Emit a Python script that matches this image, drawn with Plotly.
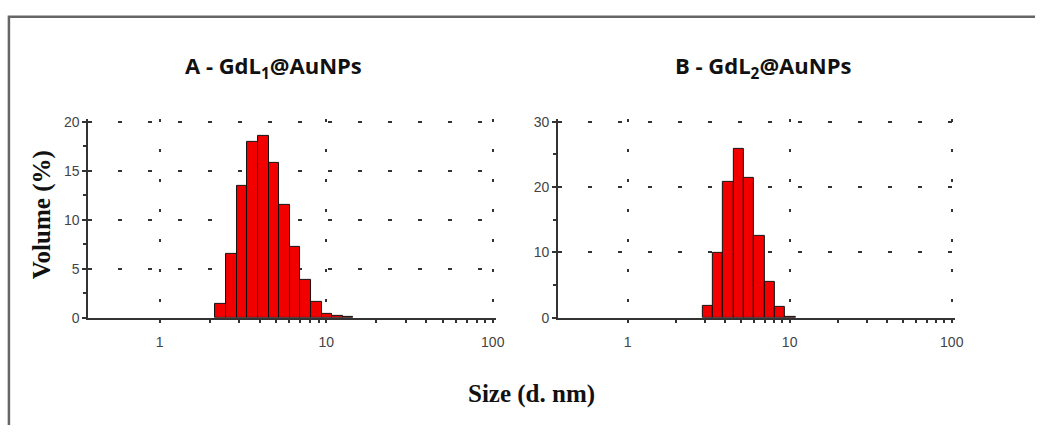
import numpy as np
import plotly.graph_objects as go

# ---- data (Malvern size classes, d.nm) ----
size_a = [2.328, 2.696, 3.122, 3.615, 4.187, 4.849, 5.615, 6.503, 7.531, 8.721, 10.1, 11.7, 13.54]
vol_a = [1.4, 6.5, 13.5, 18.0, 18.6, 15.8, 11.5, 7.2, 3.9, 1.6, 0.4, 0.15, 0.05]
size_b = [3.122, 3.615, 4.187, 4.849, 5.615, 6.503, 7.531, 8.721, 10.1]
vol_b = [1.8, 9.9, 20.8, 25.8, 21.4, 12.6, 5.5, 1.6, 0.2]

major_x = [1, 10, 100]
minor_x = [2, 3, 4, 5, 6, 7, 8, 9, 20, 30, 40, 50, 60, 70, 80, 90]
title_a = "A - GdL<sub>1</sub>@AuNPs"
title_b = "B - GdL<sub>2</sub>@AuNPs"
y_title = "Volume (%)"
x_title = "Size (d. nm)"

W, H = 1044, 433
fig = go.Figure()

def add_bars(sizes, vols, xa, ya):
    lx = np.log10(sizes)
    width = float(np.log10(sizes[1] / sizes[0]))
    fig.add_trace(go.Bar(x=lx, y=vols, width=width, xaxis=xa, yaxis=ya,
                         marker=dict(color="#f20000", line=dict(color="#111111", width=1)),
                         showlegend=False, hoverinfo="skip"))

add_bars(size_a, vol_a, "x", "y")
add_bars(size_b, vol_b, "x2", "y2")

gridc = "#333333"
tickfont = dict(family="Liberation Sans, Arial", size=14, color="#444444")

def xaxis(dom, anchor):
    return dict(domain=dom, anchor=anchor, range=[-0.43, 2.02],
                tickvals=np.log10(major_x).tolist(), ticktext=[str(v) for v in major_x],
                showgrid=True, gridcolor=gridc, griddash="3px,27px", gridwidth=1.5,
                showline=True, linecolor="#333333", linewidth=1.5,
                ticks="outside", ticklen=3, tickcolor="#333333", tickwidth=1.5,
                tickfont=tickfont, ticklabelstandoff=8, zeroline=False,
                minor=dict(tickvals=np.log10(minor_x).tolist(), ticks="outside", ticklen=3,
                           tickcolor="#333333", tickwidth=1.5, showgrid=False),
                fixedrange=True)

def yaxis(dom, anchor, rng, dt):
    return dict(domain=dom, anchor=anchor, range=rng, dtick=dt, tick0=0,
                showgrid=True, gridcolor=gridc, griddash="4px,26px", gridwidth=1.5,
                showline=True, linecolor="#333333", linewidth=1.5,
                ticks="outside", ticklen=4, tickcolor="#333333", tickwidth=1.5,
                tickfont=tickfont, zeroline=False,
                minor=dict(dtick=dt / 2, ticks="outside", ticklen=3,
                           tickcolor="#333333", tickwidth=1.5, showgrid=False),
                fixedrange=True)

ydom = [1 - 322.5 / H, 1 - 117.4 / H]
fig.update_layout(
    width=W, height=H, margin=dict(l=0, r=0, t=0, b=0),
    paper_bgcolor="white", plot_bgcolor="white", bargap=0,
    xaxis=xaxis([88.8 / W, 500.4 / W], "y"),
    yaxis=yaxis(ydom, "x", [0, 20.3], 5),
    xaxis2=xaxis([562.7 / W, 963.3 / W], "y2"),
    yaxis2=yaxis(ydom, "x2", [0, 30.45], 10),
)

ann_font = dict(family="Open Sans, Noto Sans", size=22, color="#111111")
fig.add_annotation(text="<b>" + title_a + "</b>", x=276 / W, y=1 - 64 / H, xref="paper", yref="paper",
                   showarrow=False, font=ann_font, xanchor="center", yanchor="middle")
fig.add_annotation(text="<b>" + title_b + "</b>", x=770 / W, y=1 - 64 / H, xref="paper", yref="paper",
                   showarrow=False, font=ann_font, xanchor="center", yanchor="middle")
serif = dict(family="Liberation Serif, Times New Roman", size=25, color="#111111")
fig.add_annotation(text="<b>" + y_title + "</b>", x=42 / W, y=1 - 216 / H, xref="paper", yref="paper",
                   showarrow=False, font=serif, textangle=-90, xanchor="center", yanchor="middle")
fig.add_annotation(text="<b>" + x_title + "</b>", x=536 / W, y=1 - 401 / H, xref="paper", yref="paper",
                   showarrow=False, font=serif, xanchor="center", yanchor="middle")

# outer frame (top and left edges visible)
fig.add_shape(type="path", xref="paper", yref="paper",
              path=f"M {9 / W},0 L {9 / W},{1 - 12 / H} L 1,{1 - 12 / H}",
              line=dict(color="#666666", width=2.5))

fig.write_html("out.html", config={"displayModeBar": False},
               post_script="document.body.style.margin='0';document.body.style.overflow='hidden';")
